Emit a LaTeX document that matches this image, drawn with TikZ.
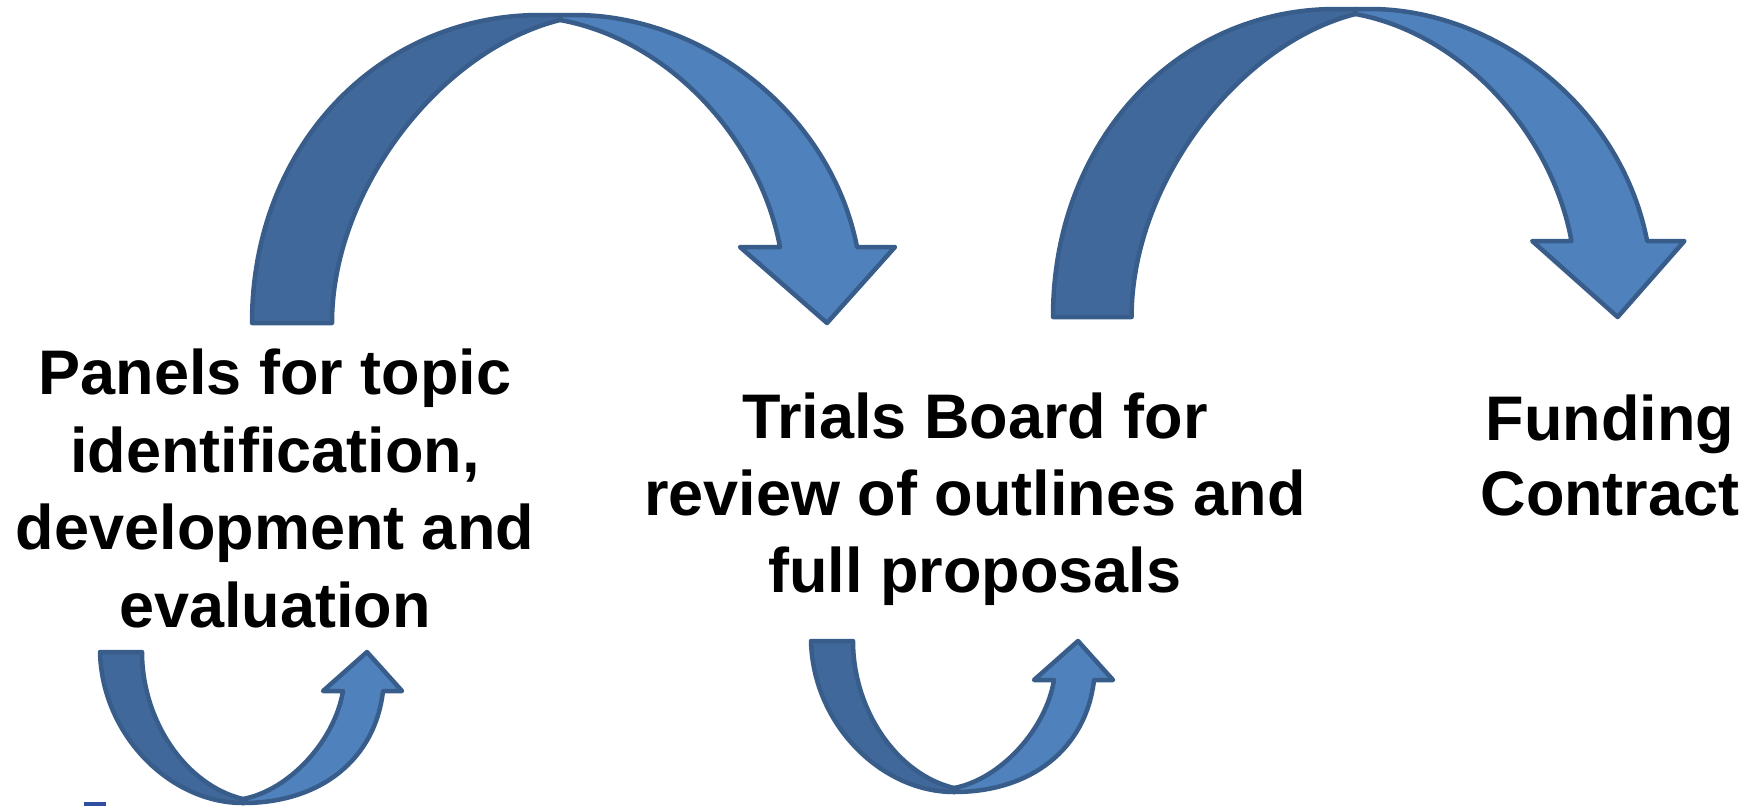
\documentclass[tikz,border=0pt]{standalone}
\usepackage{fontspec}
\setmainfont{Liberation Sans}
\definecolor{backblue}{HTML}{41689A}
\definecolor{frontblue}{HTML}{4F81BD}
\definecolor{edgeblue}{HTML}{385D8A}
\definecolor{markblue}{HTML}{2E4FA0}
\tikzset{
  backpart/.style={fill=backblue, draw=edgeblue, line width=4.5pt, line join=round},
  frontpart/.style={fill=frontblue, draw=edgeblue, line width=4.5pt, line join=round},
  label/.style={align=center, anchor=base, inner sep=0pt, text=black,
    font=\fontsize{63}{77.5}\selectfont\bfseries},
  bigarrow/.pic={
    \draw[backpart] (0,0) .. controls (0,-178) and (128,-308) .. (288,-308) -- (308,-308)
      -- (308,-303) .. controls (188,-273) and (80,-133) .. (80,0) -- cycle;
    \draw[frontpart] (308,-303) -- (308,-308) -- (323,-308)
      .. controls (448,-308) and (578,-213) .. (605,-76) -- (643,-76) -- (575,0)
      -- (488,-76) -- (528,-76) .. controls (508,-183) and (418,-283) .. (308,-303) -- cycle;
  },
  smallarrow/.pic={
    \draw[backpart] (0,0) .. controls (2,83) and (70,151) .. (143,151)
      -- (143,147) .. controls (85,133) and (42,68) .. (42,0) -- cycle;
    \draw[frontpart] (143,147) -- (143,151) .. controls (220,151) and (275,108) .. (283,39)
      -- (302,39) -- (267,0) -- (223,39) -- (243,39)
      .. controls (235,88) and (190,138) .. (143,147) -- cycle;
  }
}
\begin{document}
\begin{tikzpicture}[x=1pt,y=-1pt]
\useasboundingbox (0,0) rectangle (1758,806);
% big curved arrows
\pic at (252,323) {bigarrow};
\pic[xscale=0.982] at (1053,317) {bigarrow};
% small curved arrows
\pic at (100,652) {smallarrow};
\pic at (811,641) {smallarrow};
% texts (anchor base = baseline of the last line)
\node[label] (panels) at (275,627) {Panels for topic\\identification,\\development and\\evaluation};
\node[label, font=\fontsize{63}{77}\selectfont\bfseries] (trials) at (975,592) {Trials Board for\\review of outlines and\\full proposals};
\node[label, font=\fontsize{63}{75}\selectfont\bfseries] (funding) at (1610,515) {Funding\\Contract};
% small cut-off mark at bottom left
\fill[markblue] (84,802) rectangle (106,806);
\end{tikzpicture}
\end{document}
